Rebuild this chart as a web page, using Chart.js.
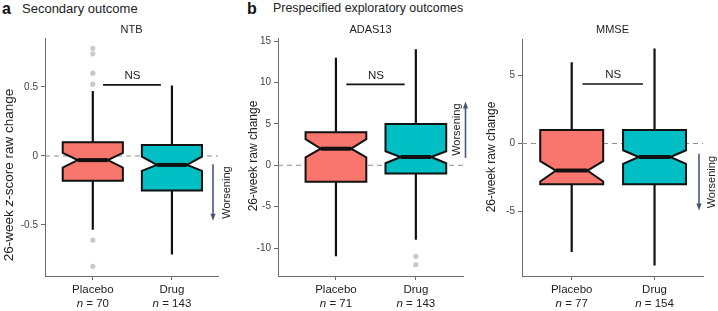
<!DOCTYPE html>
<html>
<head>
<meta charset="utf-8">
<script src="https://cdn.jsdelivr.net/npm/chart.js@4/dist/chart.umd.min.js"></script>
<style>
  body { margin: 0; background: #fff; width: 718px; height: 311px; position: relative; overflow: hidden;
         font-family: "Liberation Sans", Arial, sans-serif; color: #222; }
  canvas { position: absolute; top: 0; }
  .lab { position: absolute; top: 0px; font-size: 16px; font-weight: bold; color: #111; }
  .head { position: absolute; top: 1px; font-size: 13px; color: #222; white-space: nowrap; }
</style>
</head>
<body>
<div class="lab" style="left:2px">a</div>
<div class="head" style="left:22px">Secondary outcome</div>
<div class="lab" style="left:247px">b</div>
<div class="head" style="left:273px; font-size:12.4px">Prespecified exploratory outcomes</div>

<canvas id="chartNTB" width="236" height="311" style="left:0px"></canvas>
<canvas id="chartADAS" width="244" height="311" style="left:236px"></canvas>
<canvas id="chartMMSE" width="238" height="311" style="left:480px"></canvas>

<script>
var groups = ['Placebo', 'Drug'];

// NTB, 26-week z-score change
var ntbN = [70, 143];
var ntbLow = [-0.535, -0.715];
var ntbQ1 = [-0.18, -0.25];
var ntbMedian = [-0.03, -0.065];
var ntbQ3 = [0.10, 0.08];
var ntbHigh = [0.47, 0.51];
var ntbNotchLow = [-0.085, -0.108];
var ntbNotchHigh = [0.022, -0.005];
var ntbOutliers = [[0.78, 0.74, 0.60, 0.52, -0.61, -0.80], []];
var ntbTicks = [-0.5, 0, 0.5];
var ntbNS = 0.515;

// ADAS13, 26-week raw change
var adasN = [71, 143];
var adasLow = [-11, -9];
var adasQ1 = [-2, -1];
var adasMedian = [2, 1];
var adasQ3 = [4, 5];
var adasHigh = [13, 14];
var adasNotchLow = [0.95, 0.25];
var adasNotchHigh = [3.15, 1.7];
var adasOutliers = [[], [-11, -12]];
var adasTicks = [-10, -5, 0, 5, 10, 15];
var adasNS = 9.77;

// MMSE, 26-week raw change
var mmseN = [77, 154];
var mmseLow = [-8, -9];
var mmseQ1 = [-3, -3];
var mmseMedian = [-2, -1];
var mmseQ3 = [1, 1];
var mmseHigh = [6, 7];
var mmseNotchLow = [-2.8, -1.5];
var mmseNotchHigh = [-1.3, -0.5];
var mmseOutliers = [[], []];
var mmseTicks = [-5, 0, 5];
var mmseNS = 4.39;

var FONT = '"Liberation Sans", Arial, sans-serif';
var fills = ['#F8766D', '#00BFC4'];
var axisGrey = '#6b6b6b';
var arrowCol = '#46587a';

// draws a line of text made of plain / italic pieces, centred on x
function richText(ctx, parts, x, y, size) {
    var w = 0;
    parts.forEach(function (p) {
        ctx.font = (p.it ? 'italic ' : '') + size + 'px ' + FONT;
        w += ctx.measureText(p.t).width;
    });
    var cx = x - w / 2;
    ctx.textAlign = 'left';
    parts.forEach(function (p) {
        ctx.font = (p.it ? 'italic ' : '') + size + 'px ' + FONT;
        ctx.fillText(p.t, cx, y);
        cx += ctx.measureText(p.t).width;
    });
}

function boxPlugin(p) {
    return {
        id: 'boxes',
        beforeDatasetsDraw: function (chart) {
            var ctx = chart.ctx, xs = chart.scales.x, ys = chart.scales.y, a = chart.chartArea;
            ctx.save();
            // reference line at 0
            var y0 = ys.getPixelForValue(0);
            ctx.strokeStyle = '#8c8c8c';
            ctx.lineWidth = 1.1;
            ctx.setLineDash([5, 4]);
            ctx.beginPath(); ctx.moveTo(a.left, y0); ctx.lineTo(a.right, y0); ctx.stroke();
            ctx.setLineDash([]);

            for (var i = 0; i < groups.length; i++) {
                var cx = xs.getPixelForValue(i + 1);
                var hw = xs.getPixelForValue(i + 1 + 0.38) - cx;
                var Y = function (v) { return ys.getPixelForValue(v); };
                // whiskers
                ctx.strokeStyle = '#111';
                ctx.lineWidth = 2.2;
                ctx.beginPath();
                ctx.moveTo(cx, Y(p.q3[i])); ctx.lineTo(cx, Y(p.high[i]));
                ctx.moveTo(cx, Y(p.q1[i])); ctx.lineTo(cx, Y(p.low[i]));
                ctx.stroke();
                // notched box
                ctx.beginPath();
                ctx.moveTo(cx - hw, Y(p.q3[i]));
                ctx.lineTo(cx + hw, Y(p.q3[i]));
                ctx.lineTo(cx + hw, Y(p.notchHigh[i]));
                ctx.lineTo(cx + hw / 2, Y(p.median[i]));
                ctx.lineTo(cx + hw, Y(p.notchLow[i]));
                ctx.lineTo(cx + hw, Y(p.q1[i]));
                ctx.lineTo(cx - hw, Y(p.q1[i]));
                ctx.lineTo(cx - hw, Y(p.notchLow[i]));
                ctx.lineTo(cx - hw / 2, Y(p.median[i]));
                ctx.lineTo(cx - hw, Y(p.notchHigh[i]));
                ctx.closePath();
                ctx.fillStyle = fills[i];
                ctx.fill();
                ctx.lineWidth = 2;
                ctx.lineJoin = 'miter';
                ctx.stroke();
                // median
                ctx.lineWidth = 4;
                ctx.beginPath();
                ctx.moveTo(cx - hw / 2, Y(p.median[i]));
                ctx.lineTo(cx + hw / 2, Y(p.median[i]));
                ctx.stroke();
            }
            ctx.restore();
        },
        afterDraw: function (chart) {
            var ctx = chart.ctx, xs = chart.scales.x, ys = chart.scales.y, a = chart.chartArea;
            ctx.save();
            ctx.fillStyle = '#222';
            ctx.textBaseline = 'middle';
            // panel title
            ctx.font = '11px ' + FONT;
            ctx.textAlign = 'center';
            ctx.fillText(p.title, (a.left + a.right) / 2, 30);

            // NS bracket
            var yn = ys.getPixelForValue(p.ns);
            ctx.strokeStyle = '#111';
            ctx.lineWidth = 1.6;
            ctx.beginPath();
            ctx.moveTo(xs.getPixelForValue(1.13), yn);
            ctx.lineTo(xs.getPixelForValue(1.86), yn);
            ctx.stroke();
            ctx.font = '11.5px ' + FONT;
            ctx.fillText('NS', xs.getPixelForValue(1.5), yn - 9);

            // n = ... under the category labels
            for (var i = 0; i < groups.length; i++) {
                richText(ctx, [{ t: 'n', it: true }, { t: ' = ' + p.n[i] }], xs.getPixelForValue(i + 1), 304, 11.5);
            }

            // y axis title
            ctx.save();
            ctx.translate(p.titleX, p.titleY);
            ctx.rotate(-Math.PI / 2);
            richText(ctx, p.yTitle, 0, 0, p.titleSize);
            ctx.restore();

            // worsening arrow
            var ax = a.right + p.arrowDx;
            var yA = ys.getPixelForValue(p.arrow[0]), yB = ys.getPixelForValue(p.arrow[1]);
            var dir = yB > yA ? 1 : -1;
            ctx.strokeStyle = arrowCol;
            ctx.fillStyle = arrowCol;
            ctx.lineWidth = 1.6;
            ctx.beginPath(); ctx.moveTo(ax, yA); ctx.lineTo(ax, yB - dir * 5); ctx.stroke();
            ctx.beginPath();
            ctx.moveTo(ax, yB); ctx.lineTo(ax - 2.6, yB - dir * 7); ctx.lineTo(ax + 2.6, yB - dir * 7);
            ctx.closePath(); ctx.fill();
            ctx.save();
            ctx.fillStyle = '#222';
            ctx.translate(a.right + p.textDx, (yA + yB) / 2);
            ctx.rotate(-Math.PI / 2);
            ctx.font = '11px ' + FONT;
            ctx.textAlign = 'center';
            ctx.fillText('Worsening', 0, 0);
            ctx.restore();
            ctx.restore();
        }
    };
}

function makePanel(id, p) {
    var points = [];
    p.outliers.forEach(function (list, i) {
        list.forEach(function (v) { points.push({ x: i + 1, y: v }); });
    });
    return new Chart(document.getElementById(id), {
        type: 'scatter',
        data: {
            datasets: [{
                data: points,
                pointRadius: 2.6,
                pointBackgroundColor: '#c9c9c9',
                pointBorderWidth: 0
            }]
        },
        options: {
            responsive: false,
            animation: false,
            events: [],
            layout: { padding: { top: p.top, right: p.padRight, left: 0, bottom: 0 } },
            plugins: { legend: { display: false }, tooltip: { enabled: false } },
            scales: {
                x: {
                    type: 'linear',
                    min: p.xMin,
                    max: p.xMax,
                    afterBuildTicks: function (s) { s.ticks = groups.map(function (g, i) { return { value: i + 1 }; }); },
                    afterFit: function (s) { s.height = 35; },
                    border: { color: axisGrey, width: 1 },
                    grid: { drawOnChartArea: false, drawTicks: true, tickLength: 4, color: axisGrey },
                    ticks: {
                        padding: 3,
                        color: '#222',
                        font: { family: FONT, size: 11.5 },
                        callback: function (v) { return groups[v - 1]; }
                    }
                },
                y: {
                    min: p.yMin,
                    max: p.yMax,
                    afterBuildTicks: function (s) { s.ticks = p.ticks.map(function (v) { return { value: v }; }); },
                    afterFit: function (s) { s.width = p.yWidth; },
                    border: { color: axisGrey, width: 1 },
                    grid: { drawOnChartArea: false, drawTicks: true, tickLength: 4, color: axisGrey },
                    ticks: {
                        padding: 3,
                        color: '#444',
                        font: { family: FONT, size: 10 },
                        callback: function (v) { return String(v); }
                    }
                }
            }
        },
        plugins: [boxPlugin(p)]
    });
}

var chartNTB = makePanel('chartNTB', {
    title: 'NTB', n: ntbN, low: ntbLow, q1: ntbQ1, median: ntbMedian, q3: ntbQ3, high: ntbHigh,
    notchLow: ntbNotchLow, notchHigh: ntbNotchHigh, outliers: ntbOutliers, ticks: ntbTicks, ns: ntbNS,
    yTitle: [{ t: '26-week ' }, { t: 'z', it: true }, { t: '-score raw change' }],
    titleSize: 13.5, titleX: 9, titleY: 175,
    yMin: -0.87, yMax: 0.855, xMin: 0.396, xMax: 2.582,
    top: 38, padRight: 18, yWidth: 45,
    arrow: [-0.06, -0.47], arrowDx: -5, textDx: 9
});
//////////////////////////////////////////////////////////////
var chartADAS = makePanel('chartADAS', {
    title: 'ADAS13', n: adasN, low: adasLow, q1: adasQ1, median: adasMedian, q3: adasQ3, high: adasHigh,
    notchLow: adasNotchLow, notchHigh: adasNotchHigh, outliers: adasOutliers, ticks: adasTicks, ns: adasNS,
    yTitle: [{ t: '26-week raw change' }],
    titleSize: 12, titleX: 18, titleY: 156,
    yMin: -13.37, yMax: 15.37, xMin: 0.275, xMax: 2.59,
    top: 38, padRight: 17, yWidth: 42,
    arrow: [0.9, 7.7], arrowDx: 2.5, textDx: -6.5
});
//////////////////////////////////////////////////////////////
var chartMMSE = makePanel('chartMMSE', {
    title: 'MMSE', n: mmseN, low: mmseLow, q1: mmseQ1, median: mmseMedian, q3: mmseQ3, high: mmseHigh,
    notchLow: mmseNotchLow, notchHigh: mmseNotchHigh, outliers: mmseOutliers, ticks: mmseTicks, ns: mmseNS,
    yTitle: [{ t: '26-week raw change' }],
    titleSize: 12, titleX: 12, titleY: 157,
    yMin: -9.78, yMax: 7.71, xMin: 0.4, xMax: 2.585,
    top: 39, padRight: 15, yWidth: 42,
    arrow: [-0.76, -4.95], arrowDx: -4, textDx: 9
});
</script>
</body>
</html>
